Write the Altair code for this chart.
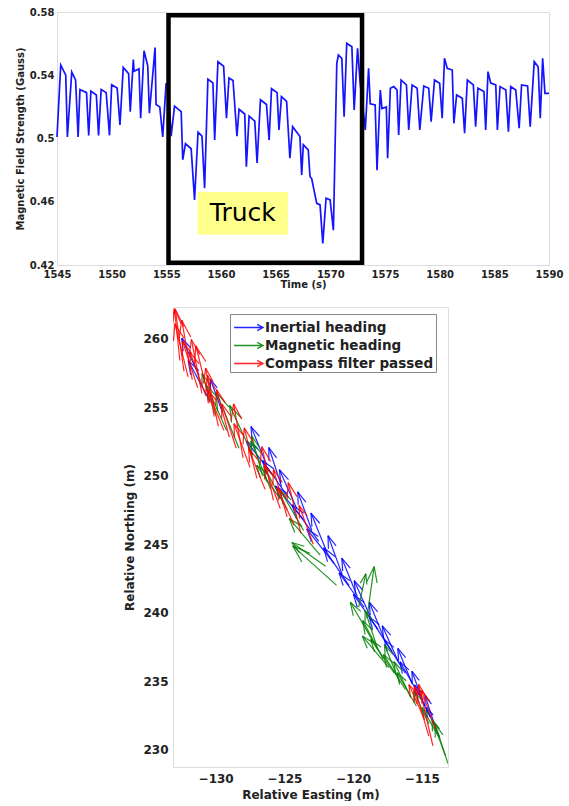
import math
import altair as alt
import pandas as pd

# ---------------- Top panel: magnetic field strength ----------------
time_s = [1545.0, 1545.34, 1545.8, 1545.95, 1546.35, 1546.7, 1546.93, 1547.1, 1547.7, 1547.9,
          1548.1, 1548.6, 1548.8, 1549.04, 1549.5, 1549.8, 1550.0, 1550.5, 1550.76, 1551.06,
          1551.55, 1551.7, 1551.98, 1552.05, 1552.5, 1552.65, 1552.96, 1553.3, 1553.45, 1553.97,
          1554.06, 1554.4, 1554.67, 1554.98, 1555.2, 1555.44, 1555.75, 1556.36, 1556.5, 1556.75,
          1557.27, 1557.58, 1557.9, 1558.26, 1558.5, 1558.8, 1559.26, 1559.42, 1559.72, 1560.24,
          1560.5, 1560.73, 1561.1, 1561.46, 1561.65, 1562.17, 1562.32, 1562.57, 1563.09, 1563.3,
          1563.61, 1564.16, 1564.4, 1564.62, 1565.13, 1565.3, 1565.53, 1566.0, 1566.3, 1566.55,
          1567.22, 1567.38, 1567.53, 1567.98, 1568.14, 1568.3, 1568.44, 1568.76, 1569.06, 1569.31,
          1569.61, 1569.98, 1570.28, 1570.59, 1570.74, 1571.05, 1571.26, 1571.5, 1571.97, 1572.18,
          1572.49, 1572.73, 1573.2, 1573.5, 1573.65, 1574.1, 1574.27, 1574.57, 1574.72, 1575.12,
          1575.24, 1575.49, 1575.79, 1576.1, 1576.25, 1576.47, 1576.96, 1577.17, 1577.48, 1577.94,
          1578.18, 1578.55, 1579.0, 1579.22, 1579.53, 1580.0, 1580.23, 1580.44, 1580.69, 1581.15,
          1581.3, 1581.55, 1582.07, 1582.28, 1582.53, 1583.08, 1583.29, 1583.5, 1584.05, 1584.21,
          1584.42, 1584.67, 1585.13, 1585.28, 1585.52, 1586.05, 1586.29, 1586.5, 1586.96, 1587.27,
          1587.49, 1588.04, 1588.28, 1588.65, 1589.01, 1589.2, 1589.42, 1589.63, 1590.0]
field_gauss = [0.501, 0.5465, 0.540, 0.501, 0.542, 0.537, 0.501, 0.531, 0.529, 0.502,
               0.530, 0.5275, 0.502, 0.531, 0.529, 0.502, 0.534, 0.532, 0.5086, 0.545,
               0.541, 0.517, 0.550, 0.5425, 0.544, 0.5128, 0.5555, 0.546, 0.516, 0.5575,
               0.5215, 0.520, 0.501, 0.535, 0.530, 0.5015, 0.5205, 0.517, 0.4865, 0.4967,
               0.4935, 0.4612, 0.504, 0.5015, 0.4686, 0.5375, 0.5352, 0.499, 0.5485, 0.5457,
               0.5128, 0.5383, 0.5367, 0.5015, 0.5185, 0.5155, 0.4822, 0.5142, 0.511, 0.4845,
               0.5245, 0.5215, 0.499, 0.5315, 0.529, 0.5054, 0.5265, 0.5235, 0.4875, 0.5075,
               0.5012, 0.477, 0.496, 0.4928, 0.476, 0.4745, 0.4696, 0.459, 0.458, 0.4337,
               0.4622, 0.4612, 0.442, 0.5476, 0.5528, 0.5507, 0.5138, 0.5602, 0.558, 0.518,
               0.557, 0.535, 0.5054, 0.5444, 0.522, 0.5212, 0.48, 0.5307, 0.519, 0.520,
               0.4875, 0.5318, 0.5328, 0.5307, 0.5022, 0.537, 0.5339, 0.5054, 0.5339, 0.5318,
               0.5054, 0.5332, 0.5318, 0.5107, 0.537, 0.535, 0.5128, 0.5507, 0.5444, 0.5433,
               0.5096, 0.5275, 0.5254, 0.5033, 0.537, 0.5339, 0.5075, 0.5318, 0.5297, 0.5054,
               0.5423, 0.535, 0.5339, 0.5054, 0.5328, 0.5307, 0.5043, 0.5328, 0.5307, 0.5065,
               0.5339, 0.5332, 0.5075, 0.5486, 0.5454, 0.5128, 0.5507, 0.5286, 0.5286]

# truck event window and its annotation label
truck_window = [1555.2, 1572.9]
truck_field_range = [0.4215, 0.578]
truck_label = "Truck"
truck_label_box_t = [1557.86, 1566.12]
truck_label_box_v = [0.4391, 0.4662]

# ---------------- Bottom panel: heading arrows (quiver) ----------------
series_names = ["Inertial heading", "Magnetic heading", "Compass filter passed"]
series_colors = ["#0000FF", "#008000", "#FF0000"]

inertial_east = [-131.2, -130.4, -129.5, -126.3, -125.8, -125.2, -124.7, -124.1, -123.6, -123.0,
                 -122.5, -121.9, -121.4, -120.8, -120.3, -119.7, -119.2, -118.7, -118.2, -117.7,
                 -117.2, -116.7, -116.2, -115.7, -115.2, -114.8, -114.4, -114.0, -113.7]
inertial_north = [257.3, 255.4, 254.6, 250.8, 250.0, 249.2, 248.4, 247.6, 246.8, 246.0,
                  245.2, 244.4, 243.6, 242.8, 242.0, 241.2, 240.4, 239.6, 238.8, 238.0,
                  237.2, 236.4, 235.6, 234.8, 234.0, 233.2, 232.4, 231.6, 230.9]
inertial_heading = [-25, -28, -20, -22, -38, -18, -35, -24, -40, -20,
                    -36, -22, -38, -20, -34, -22, -36, -24, -35, -22,
                    -33, -24, -32, -22, -30, -20, -26, -18, -24]
inertial_length = [3.0, 3.4, 2.6, 3.0, 3.2, 3.0, 3.3, 3.1, 3.2, 3.0,
                   3.3, 3.1, 3.2, 3.0, 3.3, 3.0, 3.1, 3.0, 3.1, 3.0,
                   3.0, 2.9, 2.9, 2.8, 2.8, 2.7, 2.6, 2.5, 2.4]

magnetic_east = [-130.0, -129.2, -128.3, -127.3, -126.6, -126.0, -125.3, -124.8, -123.6, -122.4,
                 -121.2, -122.0, -119.6, -119.0, -118.6, -118.2, -117.8, -117.4, -117.0, -116.6,
                 -116.2, -115.8, -115.4, -114.5, -113.8, -113.3, -113.1]
magnetic_north = [254.4, 253.3, 252.0, 251.5, 250.0, 249.0, 248.3, 247.5, 246.0, 244.2,
                  242.0, 243.4, 240.4, 239.6, 238.0, 237.3, 236.6, 236.0, 235.6, 234.9,
                  234.4, 233.8, 233.2, 231.9, 231.0, 229.6, 229.0]
magnetic_heading = [-18, -24, -22, -25, -15, -22, -35, -28, -30, -40,
                    -48, -55, 12, 8, -30, -18, -28, -40, -35, -22,
                    -32, -25, -30, -25, -30, -20, -18]
magnetic_length = [3.2, 3.6, 4.4, 4.0, 3.0, 3.8, 3.0, 3.6, 3.4, 3.5,
                   4.3, 3.0, 2.5, 3.8, 3.2, 3.0, 3.2, 3.0, 3.0, 3.0,
                   3.0, 2.9, 2.8, 2.6, 2.4, 2.8, 3.0]

compass_east = [-132.6, -132.3, -132.0, -131.7, -131.3, -131.0, -130.7, -130.4, -130.1, -129.8,
                -129.4, -129.0, -128.5, -128.0, -127.5, -127.0, -126.4, -125.8, -125.3, -124.8,
                -124.3, -123.8, -122.9, -114.2, -114.5, -114.0, -114.8]
compass_north = [258.4, 257.6, 257.2, 257.0, 256.4, 256.0, 255.8, 255.3, 254.3, 253.6,
                 253.3, 252.8, 252.0, 251.3, 250.6, 249.8, 249.0, 248.2, 247.6, 247.0,
                 246.4, 245.8, 245.0, 230.3, 231.0, 231.5, 232.2]
compass_heading = [-6, -8, -14, -10, -18, -11, -20, -14, -10, -12,
                   -22, -15, -18, -10, -20, -14, -22, -12, -20, -16,
                   -24, -14, -20, -13, -16, -20, -24]
compass_length = [3.8, 4.6, 4.0, 4.4, 3.6, 4.0, 3.4, 4.3, 3.6, 3.8,
                  3.2, 3.6, 3.4, 4.0, 3.4, 3.8, 3.2, 4.0, 3.4, 3.6,
                  3.0, 3.8, 3.0, 4.6, 3.8, 3.0, 2.8]

# ---------------- build tables ----------------
top_df = pd.DataFrame({"t": time_s, "v": field_gauss})
truck_df = pd.DataFrame({"t": [truck_window[0]], "t2": [truck_window[1]],
                         "v": [truck_field_range[0]], "v2": [truck_field_range[1]]})
label_df = pd.DataFrame({"t": [truck_label_box_t[0]], "t2": [truck_label_box_t[1]],
                         "v": [truck_label_box_v[0]], "v2": [truck_label_box_v[1]],
                         "tc": [sum(truck_label_box_t) / 2], "vc": [sum(truck_label_box_v) / 2],
                         "label": [truck_label]})


def arrow_rows(name, east, north, heading, length, alpha=0.3, beta=0.33):
    rows = []
    for x, y, h, L in zip(east, north, heading, length):
        u = L * math.sin(math.radians(h))
        v = L * math.cos(math.radians(h))
        tx, ty = x + u, y + v
        b1 = (tx - alpha * (u + beta * v), ty - alpha * (v - beta * u))
        b2 = (tx - alpha * (u - beta * v), ty - alpha * (v + beta * u))
        rows.append(dict(series=name, x=x, y=y, x2=tx, y2=ty))
        rows.append(dict(series=name, x=b1[0], y=b1[1], x2=tx, y2=ty))
        rows.append(dict(series=name, x=b2[0], y=b2[1], x2=tx, y2=ty))
    return rows


quiver = (arrow_rows(series_names[0], inertial_east, inertial_north, inertial_heading, inertial_length)
          + arrow_rows(series_names[1], magnetic_east, magnetic_north, magnetic_heading, magnetic_length)
          + arrow_rows(series_names[2], compass_east, compass_north, compass_heading, compass_length))
quiver_df = pd.DataFrame(quiver)

FONT = "DejaVu Sans"

# ---------------- top chart ----------------
xt = alt.X("t:Q", scale=alt.Scale(domain=[1545, 1590], nice=False, zero=False),
           axis=alt.Axis(title="Time (s)", values=list(range(1545, 1591, 5)), format="d",
                         grid=False, ticks=False, domain=False, labelFont=FONT, labelFontSize=10,
                         labelFontWeight="bold", labelColor="#222", labelPadding=4,
                         labelOverlap=False,
                         titleFont=FONT, titleFontSize=10, titleFontWeight="bold",
                         titleColor="#222", titlePadding=0, labelFlush=False))
yt = alt.Y("v:Q", scale=alt.Scale(domain=[0.42, 0.58], nice=False, zero=False),
           axis=alt.Axis(title="Magnetic Field Strength (Gauss)",
                         values=[0.42, 0.44, 0.46, 0.48, 0.5, 0.52, 0.54, 0.56, 0.58],
                         format=".2~f", grid=False, ticks=False, domain=False,
                         labelOverlap=False,
                         labelFont=FONT, labelFontSize=10, labelFontWeight="bold",
                         labelColor="#222", labelPadding=3, titleFont=FONT, titleFontSize=10,
                         titleFontWeight="bold", titleColor="#222", titlePadding=4))

line = alt.Chart(top_df).mark_line(color="#1414FF", strokeWidth=1.7).encode(x=xt, y=yt)
truck_box = alt.Chart(truck_df).mark_rect(fillOpacity=0, stroke="black", strokeWidth=4.5).encode(
    x="t:Q", x2="t2", y="v:Q", y2="v2")
label_bg = alt.Chart(label_df).mark_rect(fill="#FFFF8C").encode(x="t:Q", x2="t2", y="v:Q", y2="v2")
label_text = alt.Chart(label_df).mark_text(font=FONT, fontSize=25, color="black",
                                           baseline="middle", align="center").encode(
    x="tc:Q", y="vc:Q", text="label:N")

top = alt.layer(line, truck_box, label_bg, label_text).properties(width=492, height=253)

# ---------------- bottom chart ----------------
xb = alt.X("x:Q", scale=alt.Scale(domain=[-133.1, -113.1], nice=False, zero=False),
           axis=alt.Axis(title="Relative Easting (m)", values=[-130, -125, -120, -115], format="d",
                         grid=False, ticks=False, domain=False, labelFont=FONT, labelFontSize=12,
                         labelFontWeight="bold", labelColor="#222", labelPadding=6,
                         labelOverlap=False,
                         titleFont=FONT, titleFontSize=12, titleFontWeight="bold",
                         titleColor="#222", titlePadding=5))
yb = alt.Y("y:Q", scale=alt.Scale(domain=[228.75, 262.3], nice=False, zero=False),
           axis=alt.Axis(title="Relative Northing (m)", values=[230, 235, 240, 245, 250, 255, 260],
                         format="d", grid=False, ticks=False, domain=False, labelFont=FONT,
                         labelOverlap=False,
                         labelFontSize=12, labelFontWeight="bold", labelColor="#222",
                         labelPadding=5, titleFont=FONT, titleFontSize=12, titleFontWeight="bold",
                         titleColor="#222", titlePadding=6))

arrows = alt.Chart(quiver_df).mark_rule(strokeWidth=1.2, opacity=0.85, clip=True).encode(
    x=xb, y=yb, x2="x2:Q", y2="y2:Q",
    color=alt.Color("series:N", scale=alt.Scale(domain=series_names, range=series_colors),
                    legend=alt.Legend(title=None, orient="none", legendX=57, legendY=7,
                                      symbolType="M-0.9,0L1.86,0M1.3,-0.3L1.86,0L1.3,0.3",
                                      symbolSize=441, symbolStrokeWidth=1.4,
                                      symbolFillColor="transparent",
                                      labelFont=FONT, labelFontSize=13.5, labelFontWeight="bold",
                                      labelColor="#222", labelOffset=10, rowPadding=0,
                                      labelLimit=400,
                                      padding=2, strokeColor="#888", fillColor="white")))
bottom = arrows.properties(width=275, height=460)

spacer = alt.Chart(pd.DataFrame({"a": [0]})).mark_point(opacity=0).properties(
    width=66, height=1, view=alt.ViewBackground(strokeOpacity=0))

row2 = alt.hconcat(spacer, bottom, spacing=0).resolve_legend(color="independent")
chart = alt.vconcat(top, row2, spacing=14).resolve_legend(color="independent").properties(
    padding={"left": 14, "top": 6, "right": 5, "bottom": 0}
).configure_view(stroke="#9a9a9a", strokeWidth=1).configure(background="white")

chart.save("out.html", embed_options={"renderer": "svg", "actions": False})
